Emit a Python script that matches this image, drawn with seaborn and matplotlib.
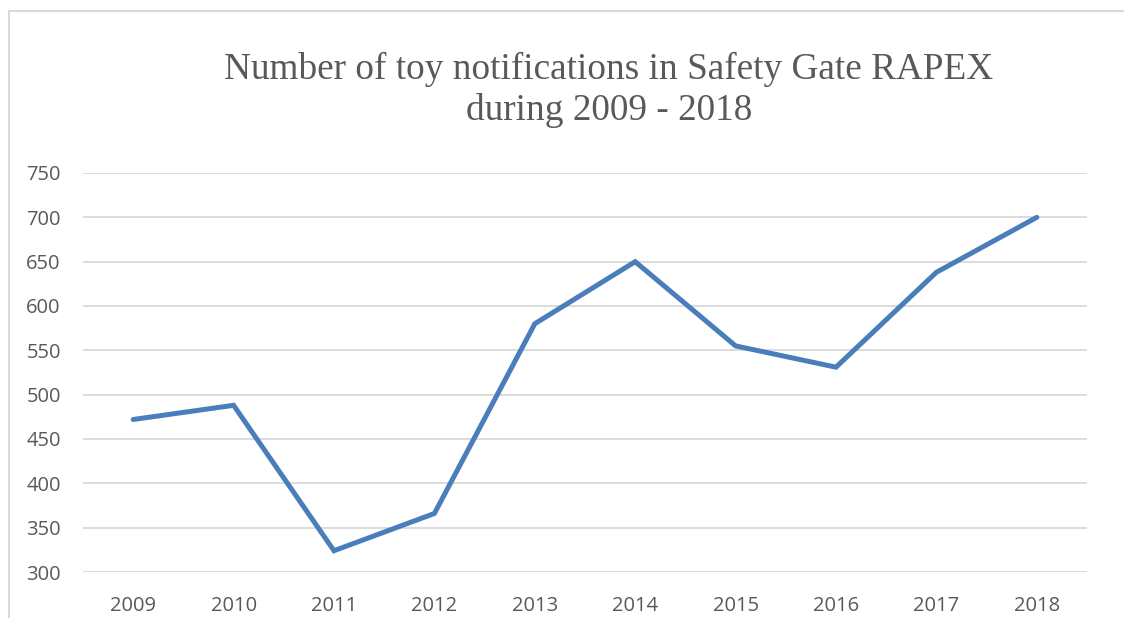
import matplotlib
matplotlib.use("Agg")
import matplotlib.pyplot as plt
import matplotlib.patches as mpatches
import seaborn as sns
import pandas as pd

# ── Data ─────────────────────────────────────────────────────────────────────
years = ["2009", "2010", "2011", "2012", "2013", "2014", "2015", "2016", "2017", "2018"]
notifications = [472, 488, 324, 366, 580, 650, 555, 531, 638, 700]
y_ticks = [300, 350, 400, 450, 500, 550, 600, 650, 700, 750]

df = pd.DataFrame({"year": years, "count": notifications})

# ── Style ────────────────────────────────────────────────────────────────────
sns.set_style("white")
plt.rcParams["font.family"] = ["Open Sans", "DejaVu Sans"]

TEXT = "#595959"
GRID = "#d9d9d9"
LINE = "#4a7ebb"

fig = plt.figure(figsize=(11.24, 6.18), dpi=100)
fig.patch.set_facecolor("white")
ax = fig.add_axes([83 / 1124, 1 - 572 / 618, (1087 - 83) / 1124, (572 - 173) / 618])

# chart border (light gray frame, open to the right/bottom)
fig.patches.append(mpatches.Rectangle(
    (9 / 1124, -0.01), 1.2, 1 - 11 / 618 + 0.01,
    transform=fig.transFigure, fill=False, edgecolor=GRID, lw=1.5))

sns.lineplot(data=df, x="year", y="count", ax=ax, color=LINE, lw=3.6,
             solid_capstyle="round", solid_joinstyle="miter", sort=False)

ax.set_xlim(-0.5, len(years) - 0.5)
ax.set_ylim(300, 750)
ax.set_yticks(y_ticks)
ax.yaxis.grid(True, color=GRID, lw=1.3)
ax.set_axisbelow(True)
for s in ax.spines.values():
    s.set_visible(False)
ax.tick_params(axis="both", length=0, labelsize=14.5, colors=TEXT)
ax.tick_params(axis="y", pad=16)
ax.tick_params(axis="x", pad=17)
ax.set_xlabel("")
ax.set_ylabel("")

fig.text(609 / 1124, 1 - 90 / 618, "Number of toy notifications in Safety Gate RAPEX\nduring 2009 - 2018",
         ha="center", va="center", fontsize=26.8, color=TEXT,
         family=["Liberation Serif", "DejaVu Serif"], linespacing=1.2)

fig.savefig("out.png", dpi=100, facecolor="white")
